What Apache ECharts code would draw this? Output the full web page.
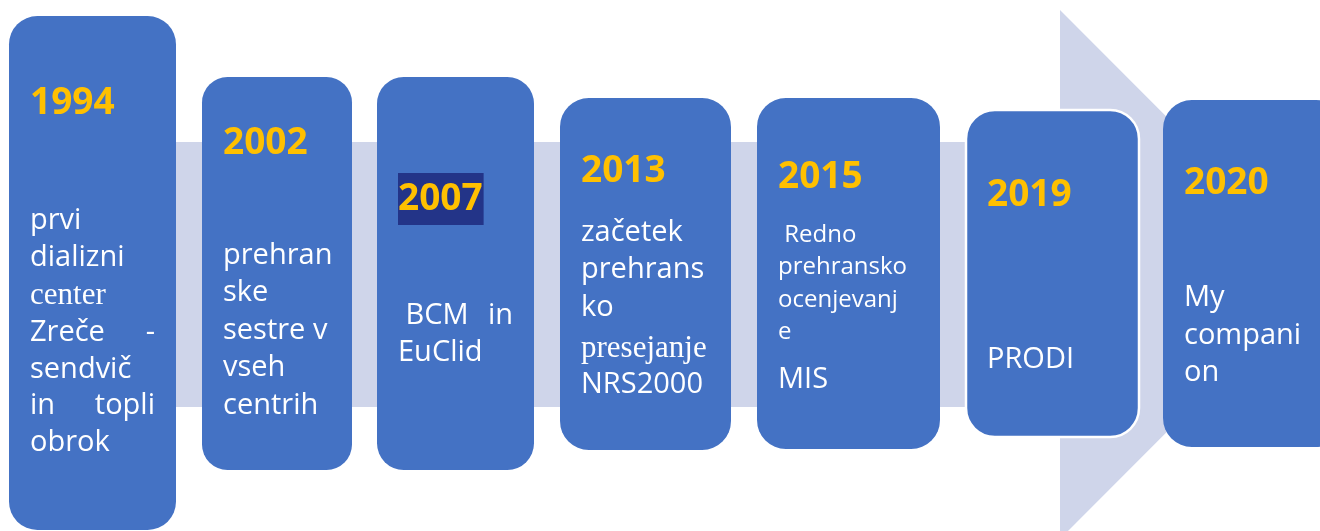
<!DOCTYPE html>
<html>
<head>
<meta charset="utf-8">
<script src="https://cdn.jsdelivr.net/npm/echarts@6/dist/echarts.min.js"></script>
<style>
  html, body { margin: 0; padding: 0; background: #fff; }
  #main { width: 1320px; height: 531px; }
</style>
</head>
<body>
<div id="main"></div>
<script>
// timeline content
const years = ['1994', '2002', '2007', '2013', '2015', '2019', '2020'];
const descriptions = [
  ['prvi', 'dializni', 'center', 'Zreče -', 'sendvič', 'in topli', 'obrok'],
  ['prehran', 'ske', 'sestre v', 'vseh', 'centrih'],
  [' BCM in', 'EuClid'],
  ['začetek', 'prehrans', 'ko', 'presejanje', 'NRS2000'],
  [' Redno', 'prehransko', 'ocenjevanj', 'e', 'MIS'],
  ['PRODI'],
  ['My', 'compani', 'on']
];

// layout (diagram units = pixels of the slide)
const boxLeft = [9, 202, 377, 560, 757, 966, 1163];
const boxRight = [176, 352, 534, 731, 940, 1139, 1345];
const boxTop = [16, 77, 77, 98, 98, 110, 100];
const boxBottom = [530, 470, 470, 450, 449, 437, 447];
const yearY = [100, 140, 196, 168, 174, 192, 180];
const lineY = [
  [218, 255, 293, 330, 367, 403, 440],
  [253, 290, 328, 365, 403],
  [313, 350],
  [230, 267, 305, 346, 382],
  [232, 264, 297, 329, 377],
  [357],
  [295, 333, 370]
];
// line kinds: s = serif, m = small, j = justified
const lineKind = [
  ['', '', 's', 'j', '', 'j', ''],
  ['', '', '', '', ''],
  ['j', ''],
  ['', '', '', 's', ''],
  ['m', 'm', 'm', 'm', ''],
  [''],
  ['', '', '']
];
const band = { left: 60, right: 1060, top: 142, bottom: 407 };
const arrow = { x: 1060, tip: 1324, top: 10, bottom: 539 };

const BOX = '#4472C4';
const GOLD = '#FFC000';
const PAD = 21;
const TEXT_SHIFT = 3;

function lineFont(kind) {
  if (kind === 's') return '31px "Liberation Serif"';
  if (kind === 'm') return '24px "Open Sans"';
  return '29px "Open Sans"';
}

const chart = echarts.init(document.getElementById('main'));
chart.setOption({
  animation: false,
  grid: { left: 0, right: 0, top: 0, bottom: 0 },
  xAxis: { type: 'value', min: 0, max: 1320, show: false },
  yAxis: { type: 'value', min: 0, max: 531, inverse: true, show: false },
  series: [
    {
      type: 'custom',
      silent: true,
      data: [[0]],
      renderItem: function (params, api) {
        const pts = [
          [band.left, band.top], [arrow.x, band.top], [arrow.x, arrow.top],
          [arrow.tip, (arrow.top + arrow.bottom) / 2], [arrow.x, arrow.bottom],
          [arrow.x, band.bottom], [band.left, band.bottom]
        ].map(p => api.coord(p));
        return { type: 'polygon', shape: { points: pts }, style: { fill: '#CFD5EA' } };
      }
    },
    {
      type: 'custom',
      silent: true,
      data: years.map((y, i) => [boxLeft[i], boxTop[i], boxRight[i], boxBottom[i], i]),
      renderItem: function (params, api) {
        const i = api.value(4);
        const p0 = api.coord([api.value(0), api.value(1)]);
        const p1 = api.coord([api.value(2), api.value(3)]);
        const w = p1[0] - p0[0];
        const h = p1[1] - p0[1];
        const r = Math.min(170, w) * 0.17;
        const children = [{
          type: 'rect',
          shape: { x: p0[0], y: p0[1], width: w, height: h, r: r },
          style: {
            fill: BOX,
            stroke: i === 5 ? '#fff' : null,
            lineWidth: i === 5 ? 2.5 : 0
          }
        }];
        const tx = p0[0] + PAD;
        const tRight = p1[0] - PAD;
        const yearStyle = {
          text: years[i],
          fill: GOLD,
          font: 'bold 37px "Open Sans"',
          align: 'left',
          verticalAlign: 'middle'
        };
        if (i === 2) {
          yearStyle.backgroundColor = '#233488';
          yearStyle.padding = [6, 1, 10, 0];
          yearStyle.lineHeight = 36;
        }
        children.push({
          type: 'text',
          x: tx,
          y: api.coord([0, yearY[i]])[1] + TEXT_SHIFT,
          style: yearStyle
        });
        descriptions[i].forEach(function (line, k) {
          const kind = lineKind[i][k];
          const y = api.coord([0, lineY[i][k]])[1] + TEXT_SHIFT;
          const font = lineFont(kind);
          if (kind === 'j') {
            const words = line.split(/ (?=\S+$)/);
            children.push({
              type: 'text', x: tx, y: y,
              style: { text: words[0], fill: '#fff', font: font, align: 'left', verticalAlign: 'middle' }
            });
            children.push({
              type: 'text', x: tRight, y: y,
              style: { text: words[1], fill: '#fff', font: font, align: 'right', verticalAlign: 'middle' }
            });
          } else {
            children.push({
              type: 'text', x: tx, y: y,
              style: { text: line, fill: '#fff', font: font, align: 'left', verticalAlign: 'middle' }
            });
          }
        });
        return { type: 'group', children: children };
      }
    }
  ]
});
</script>
</body>
</html>
